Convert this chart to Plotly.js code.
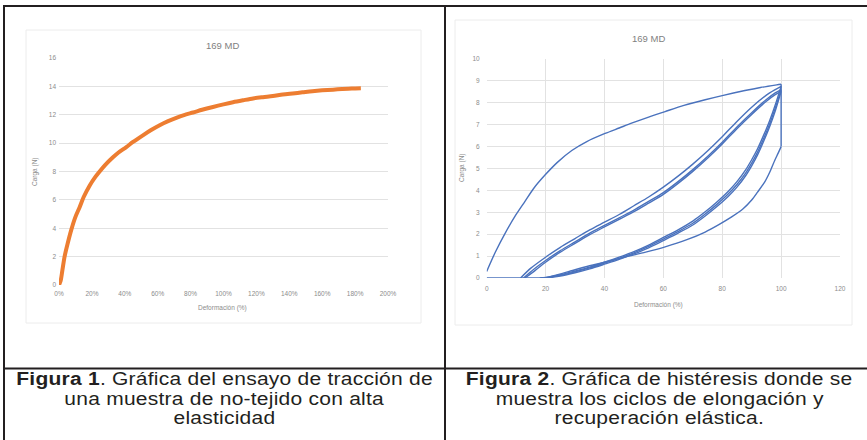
<!DOCTYPE html>
<html>
<head>
<meta charset="utf-8">
<script src="https://cdn.plot.ly/plotly-3.0.1.min.js"></script>
<style>
html,body{margin:0;padding:0;background:#fff;overflow:hidden;}
#wrap{position:relative;width:867px;height:440px;overflow:hidden;}
#chart{position:absolute;left:0;top:0;width:867px;height:440px;}
.col{position:absolute;top:370px;font-family:"Liberation Sans",Arial,sans-serif;font-size:17.5px;color:#231f20;}
.ln{height:19.5px;line-height:19.5px;text-align:center;white-space:nowrap;}
.ln span{display:inline-block;transform:scaleX(1.2);transform-origin:50% 50%;letter-spacing:0.2px;}
#cap1{left:5px;width:439px;}
#cap2{left:446px;width:427px;}
</style>
</head>
<body>
<div id="wrap">
<div id="chart"></div>
<div class="col" id="cap1"></div>
<div class="col" id="cap2"></div>
</div>
<script>
// ---------- Figure 1: tensile test (169 MD) ----------
const tensileStrain = [0, 1, 2, 3.4, 5, 7.5, 10, 12.6, 15, 18.6, 22, 24.7, 28, 32.8, 36, 40.9, 45, 51, 56, 61.2, 66, 71.3, 76, 81.5, 87, 93.6, 100, 105.8, 112, 118, 124, 130, 136, 142, 148, 154, 160, 166.6, 172, 178, 183.5];
const tensileLoad   = [0, 0.3, 1.0, 2.0, 2.8, 3.9, 4.8, 5.5, 6.2, 7.0, 7.6, 8.0, 8.45, 9.0, 9.32, 9.72, 10.08, 10.55, 10.92, 11.26, 11.53, 11.78, 11.98, 12.16, 12.35, 12.55, 12.73, 12.88, 13.02, 13.15, 13.24, 13.32, 13.42, 13.5, 13.58, 13.66, 13.72, 13.77, 13.81, 13.85, 13.87];
const fig1XTicks = [0, 20, 40, 60, 80, 100, 120, 140, 160, 180, 200];
const fig1XLabels = ["0%", "20%", "40%", "60%", "80%", "100%", "120%", "140%", "160%", "180%", "200%"];

// ---------- Figure 2: hysteresis cycles (169 MD) ----------
const load1X = [0, 3, 6.2, 10, 13, 16, 19.8, 24, 28.9, 34, 40.2, 45, 49.2, 55, 60.6, 67, 74.2, 80, 87.7, 93, 98.5, 100];
const load1Y = [0.3, 1.2, 2.03, 2.9, 3.5, 4.1, 4.7, 5.28, 5.82, 6.23, 6.6, 6.85, 7.07, 7.35, 7.6, 7.88, 8.14, 8.33, 8.56, 8.7, 8.82, 8.85];
const holdX = [100, 100];
const holdY = [8.85, 6.0];
const unload1X = [100, 99, 97.9, 96.2, 94.5, 92, 90, 87, 83.2, 79, 74.2, 68, 60.6, 54, 47, 40, 33.4, 28, 23.2, 19.8];
const unload1Y = [6.0, 5.7, 5.39, 4.85, 4.4, 3.92, 3.56, 3.15, 2.79, 2.45, 2.1, 1.75, 1.42, 1.18, 0.96, 0.72, 0.5, 0.3, 0.12, 0];
const zeroX = [0, 19.8];
const zeroY = [0, 0];
const load2X = [11.5, 15, 20, 25, 30, 35, 40, 45, 50, 55, 60, 65, 70, 75, 80, 85, 90, 95, 98, 100];
const load2Y = [0, 0.45, 0.95, 1.4, 1.8, 2.2, 2.55, 2.9, 3.3, 3.7, 4.15, 4.65, 5.2, 5.8, 6.45, 7.15, 7.8, 8.35, 8.6, 8.75];
const load3X = [12.5, 16, 20, 25, 30, 35, 40, 45, 50, 55, 60, 65, 70, 75, 80, 85, 90, 95, 98, 100];
const load3Y = [0, 0.4, 0.8, 1.25, 1.65, 2.05, 2.4, 2.75, 3.1, 3.5, 3.9, 4.4, 4.95, 5.55, 6.2, 6.9, 7.55, 8.15, 8.45, 8.6];
const load4X = [13, 16.5, 20, 25, 30, 35, 40, 45, 50, 55, 60, 65, 70, 75, 80, 85, 90, 95, 98, 100];
const load4Y = [0, 0.35, 0.72, 1.18, 1.58, 1.98, 2.33, 2.68, 3.03, 3.42, 3.82, 4.32, 4.87, 5.47, 6.12, 6.82, 7.47, 8.07, 8.37, 8.52];
const unload2X = [100, 98, 96, 94, 92, 90, 88, 85, 82, 78, 74, 70, 65, 60, 55, 50, 45, 40, 35, 30, 25, 20, 18];
const unload2Y = [8.75, 7.9, 7.15, 6.5, 5.9, 5.4, 4.95, 4.4, 3.95, 3.45, 3.0, 2.6, 2.2, 1.85, 1.5, 1.2, 0.95, 0.72, 0.5, 0.32, 0.15, 0.02, 0];
const unload3X = [100, 98, 96, 94, 92, 90, 88, 85, 82, 78, 74, 70, 65, 60, 55, 50, 45, 40, 35, 30, 25, 20, 18.5];
const unload3Y = [8.6, 7.75, 7.0, 6.35, 5.75, 5.25, 4.8, 4.27, 3.83, 3.34, 2.9, 2.5, 2.12, 1.78, 1.44, 1.15, 0.9, 0.68, 0.46, 0.28, 0.12, 0.01, 0];
const unload4X = [100, 98, 96, 94, 92, 90, 88, 85, 82, 78, 74, 70, 65, 60, 55, 50, 45, 40, 35, 30, 25, 20.5];
const unload4Y = [8.52, 7.62, 6.87, 6.22, 5.62, 5.12, 4.68, 4.15, 3.72, 3.24, 2.81, 2.42, 2.05, 1.71, 1.38, 1.1, 0.85, 0.63, 0.42, 0.24, 0.09, 0];

// ---------- Captions ----------
const caption1Lines = ["<b>Figura 1</b>. Gráfica del ensayo de tracción de", "una muestra de no-tejido con alta", "elasticidad"];
const caption2Lines = ["<b>Figura 2</b>. Gráfica de histéresis donde se", "muestra los ciclos de elongación y", "recuperación elástica."];
function fillCaption(id, lines) {
  document.getElementById(id).innerHTML =
    lines.map(l => '<div class="ln"><span>' + l + '</span></div>').join("");
}
fillCaption("cap1", caption1Lines);
fillCaption("cap2", caption2Lines);

const blue = "#4a72bd";
function cyc(x, y, smooth) {
  return {x: x, y: y, xaxis: "x2", yaxis: "y2", type: "scatter", mode: "lines",
          line: {color: blue, width: 1.4, shape: smooth ? "spline" : "linear", smoothing: 0.8},
          hoverinfo: "skip", showlegend: false};
}

const traces = [
  {x: tensileStrain, y: tensileLoad, xaxis: "x", yaxis: "y", type: "scatter", mode: "lines",
   line: {color: "#ed7d31", width: 4, shape: "spline", smoothing: 0.8}, hoverinfo: "skip", showlegend: false},
  cyc(zeroX, zeroY, false),
  cyc(load1X, load1Y, true),
  cyc(holdX, holdY, false),
  cyc(unload1X, unload1Y, true),
  cyc(load2X, load2Y, true),
  cyc(unload2X, unload2Y, true),
  cyc(load3X, load3Y, true),
  cyc(unload3X, unload3Y, true),
  cyc(load4X, load4Y, true),
  cyc(unload4X, unload4Y, true)
];

const W = 867, H = 440;
const px = v => v / W;
const py = v => 1 - v / H;
const tickFont = {family: "Liberation Sans, Arial, sans-serif", size: 6.5, color: "#8c8c8c"};
const gridC = "#e2e2e2";

function border(x0, y0, x1, y1) {
  return {type: "line", xref: "paper", yref: "paper", x0: px(x0), y0: py(y0), x1: px(x1), y1: py(y1),
          line: {color: "#231f20", width: 2}};
}
function frame(x0, y0, x1, y1) {
  return {type: "rect", xref: "paper", yref: "paper", x0: px(x0), y0: py(y0), x1: px(x1), y1: py(y1),
          line: {color: "#ececec", width: 1}, layer: "below"};
}
function txt(text, x, y, size, color, angle) {
  return {text: text, xref: "paper", yref: "paper", x: px(x), y: py(y), xanchor: "center", yanchor: "middle",
          showarrow: false, textangle: angle || 0,
          font: {family: "Liberation Sans, Arial, sans-serif", size: size, color: color}};
}

const layout = {
  width: W, height: H,
  margin: {l: 0, r: 0, t: 0, b: 0},
  paper_bgcolor: "rgba(255,255,255,1)", plot_bgcolor: "rgba(0,0,0,0)",
  showlegend: false,
  xaxis: {domain: [px(59), px(388)], range: [0, 200], tickvals: fig1XTicks, ticktext: fig1XLabels,
          showgrid: false, zeroline: false, showline: false, ticks: "", tickfont: tickFont,
          ticklabelstandoff: 3, anchor: "y", fixedrange: true},
  yaxis: {domain: [py(285), py(58)], range: [0, 16], dtick: 2, showgrid: true, gridcolor: gridC, gridwidth: 1,
          zeroline: false, showline: false, ticks: "", tickfont: tickFont, ticklabelstandoff: 2,
          anchor: "x", fixedrange: true},
  xaxis2: {domain: [px(486.7), px(840)], range: [0, 120], dtick: 20, showgrid: true, gridcolor: gridC,
           zeroline: false, showline: false, ticks: "", tickfont: tickFont, ticklabelstandoff: 5,
           anchor: "y2", fixedrange: true},
  yaxis2: {domain: [py(278), py(59)], range: [0, 10], dtick: 1, showgrid: true, gridcolor: gridC,
           zeroline: false, showline: false, ticks: "", tickfont: tickFont, ticklabelstandoff: 6,
           anchor: "x2", fixedrange: true},
  shapes: [
    frame(26, 30, 421, 323),
    frame(455, 20, 852, 325),
    border(3, 6, 867, 6),
    border(4, 5, 4, 440),
    border(445, 5, 445, 440),
    border(3, 368.5, 867, 368.5)
  ],
  annotations: [
    txt("169 MD", 223, 45, 9.5, "#7f7f7f"),
    txt("169 MD", 648, 39, 9.5, "#7f7f7f"),
    txt("Carga (N)", 35, 172, 6.5, "#8c8c8c", -90),
    txt("Deformación (%)", 223, 308, 6.5, "#8c8c8c"),
    txt("Carga (N)", 462, 167, 6.5, "#8c8c8c", -90),
    txt("Deformación (%)", 658, 305, 6.5, "#8c8c8c")
  ]
};

Plotly.newPlot("chart", traces, layout, {staticPlot: true, displayModeBar: false});
</script>
</body>
</html>
